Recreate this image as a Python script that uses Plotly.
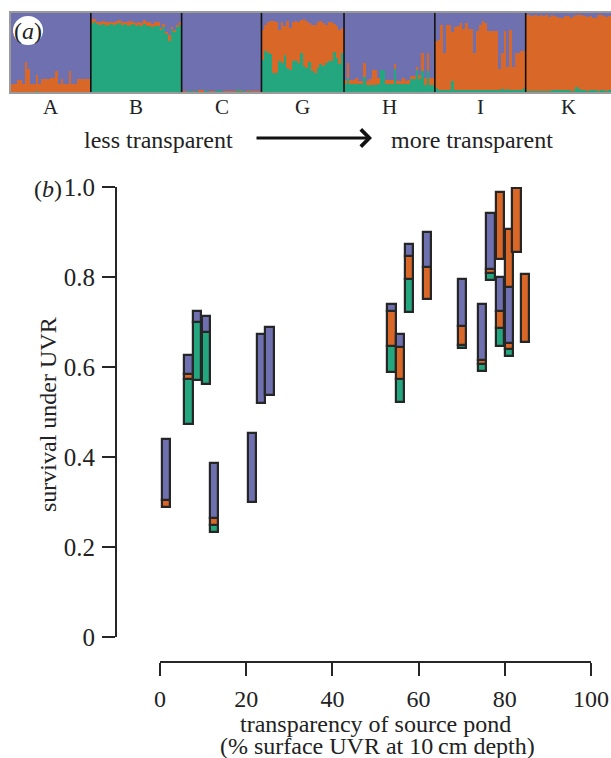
import plotly.graph_objects as go

W, H = 611, 758
PURPLE = "#6E70AF"
ORANGE = "#D96727"
GREEN = "#24A67E"
INK = "#262626"
FONT = "Liberation Serif"

# ---------------- panel (a) data: admixture proportions per individual ----------------
pop_labels = ["A", "B", "C", "G", "H", "I", "K"]

A_green = [0, 0, 0, 0, 0, 0, 0, 0, 0, 0.01, 0, 0, 0, 0, 0, 0, 0, 0, 0, 0, 0, 0, 0, 0, 0, 0, 0, 0, 0]
A_orange = [0.10, 0.10, 0.15, 0.15, 0.10, 0.38, 0.29, 0.10, 0.10, 0.21, 0.10, 0.16, 0.16, 0.17, 0.18,
            0.18, 0.26, 0.10, 0.16, 0.10, 0.10, 0.26, 0.10, 0.10, 0.16, 0.16, 0.16, 0.16, 0.16]

B_green = [0.87, 0.88, 0.86, 0.85, 0.86, 0.84, 0.85, 0.86, 0.85, 0.86, 0.87, 0.85, 0.86, 0.84, 0.85, 0.86,
           0.83, 0.85, 0.84, 0.86, 0.83, 0.84, 0.82, 0.84, 0.83, 0.78, 0.82, 0.74, 0.64, 0.80, 0.76, 0.83, 0.85]
B_orange = [0.06, 0.05, 0.03, 0.03, 0.04, 0.04, 0.03, 0.03, 0.04, 0.04, 0.04, 0.04, 0.03, 0.04, 0.05, 0.03,
            0.04, 0.04, 0.03, 0.05, 0.05, 0.04, 0.04, 0.04, 0.05, 0.03, 0.04, 0.02, 0.08, 0.02, 0.03, 0.02, 0.03]

C_green = [0.01, 0.01, 0.015, 0.015, 0.01, 0.015, 0.01, 0.01, 0.01, 0.015, 0.01, 0.01, 0.015, 0.02, 0.015,
           0.01, 0.01, 0.01, 0.01, 0.01, 0.04, 0.015, 0.01, 0.01, 0.015, 0.01, 0.01, 0.01, 0.01]
C_orange = [0.005, 0.005, 0, 0, 0.005, 0, 0.01, 0.01, 0, 0, 0.005, 0.005, 0, 0, 0, 0.005, 0.005, 0.005,
            0.005, 0.005, 0, 0.005, 0, 0.005, 0.005, 0.005, 0.005, 0.005, 0.005]

G_green = [0.41, 0.52, 0.50, 0.48, 0.24, 0.24, 0.39, 0.37, 0.47, 0.30, 0.28, 0.39, 0.41, 0.37, 0.49,
           0.33, 0.30, 0.38, 0.26, 0.24, 0.30, 0.35, 0.33, 0.37, 0.39, 0.39, 0.51, 0.43, 0.35, 0.49]
G_orange = [0.38, 0.33, 0.38, 0.42, 0.66, 0.64, 0.40, 0.51, 0.37, 0.60, 0.53, 0.49, 0.49, 0.51, 0.42,
            0.59, 0.60, 0.49, 0.59, 0.61, 0.58, 0.55, 0.54, 0.48, 0.49, 0.50, 0.35, 0.41, 0.44, 0.32]

H_green = [0.10, 0.18, 0.10, 0.10, 0.10, 0.10, 0.10, 0.19, 0.09, 0.09, 0.09, 0.09, 0.10, 0.28, 0.28, 0.10,
           0.10, 0.10, 0.29, 0.10, 0.10, 0.10, 0.10, 0.10, 0.16, 0.16, 0.28, 0.16, 0.26, 0.09, 0.26, 0.09, 0.09]
H_orange = [0.05, 0.19, 0.05, 0.05, 0.08, 0.04, 0.04, 0.18, 0.045, 0.075, 0.19, 0.19, 0.08, 0.0, 0.0, 0.05,
            0.05, 0.05, 0.06, 0.035, 0.035, 0.08, 0.035, 0.05, 0.04, 0.04, 0.04, 0.05, 0.23, 0.09, 0.23, 0.09, 0.09]

I_green = [0.05, 0.03, 0.03, 0.03, 0.02, 0.02, 0.135, 0.03, 0.03, 0.03, 0.03, 0.03, 0.03, 0.02, 0.03, 0.03,
           0.03, 0.02, 0.03, 0.03, 0.03, 0.03, 0.03, 0.03, 0.04, 0.03, 0.04, 0.03, 0.03, 0.03, 0.03, 0.03, 0.05]
I_orange = [0.60, 0.63, 0.82, 0.46, 0.83, 0.83, 0.62, 0.79, 0.81, 0.84, 0.77, 0.84, 0.77, 0.78, 0.46, 0.74,
            0.82, 0.88, 0.84, 0.74, 0.74, 0.74, 0.74, 0.26, 0.45, 0.74, 0.28, 0.76, 0.29, 0.46, 0.46, 0.49, 0.47]

K_green = [0.01, 0.01, 0.01, 0.01, 0.01, 0.01, 0.01, 0.01, 0.01, 0.02, 0.02, 0.03, 0.02, 0.02, 0.03, 0.02,
           0.01, 0.01, 0.06, 0.04, 0.02, 0.03, 0.01, 0.02, 0.03, 0.03, 0.01, 0.02, 0.03, 0.01, 0.02]
K_orange = [0.96, 0.96, 0.95, 0.96, 0.95, 0.96, 0.95, 0.96, 0.94, 0.95, 0.94, 0.92, 0.92, 0.92, 0.93, 0.94,
            0.93, 0.95, 0.91, 0.93, 0.95, 0.93, 0.94, 0.94, 0.91, 0.91, 0.96, 0.95, 0.93, 0.94, 0.94]

pops_green = [A_green, B_green, C_green, G_green, H_green, I_green, K_green]
pops_orange = [A_orange, B_orange, C_orange, G_orange, H_orange, I_orange, K_orange]

# ---------------- panel (b) data: survival range per pond, coloured by ancestry ----------------
transparency = [1.4, 6.6, 8.6, 10.6, 12.6, 21.3, 23.4, 25.4, 53.7, 55.7, 57.7, 62.0, 70.0, 74.7,
                76.7, 78.8, 78.8, 80.9, 80.9, 82.7, 84.6]
surv_top = [0.44, 0.627, 0.724, 0.713, 0.387, 0.453, 0.673, 0.689, 0.74, 0.673, 0.873, 0.90, 0.796, 0.742,
            0.944, 0.989, 0.80, 0.907, 0.778, 0.998, 0.807]
surv_bottom = [0.289, 0.473, 0.571, 0.562, 0.233, 0.30, 0.52, 0.538, 0.589, 0.522, 0.722, 0.751, 0.642, 0.591,
               0.793, 0.84, 0.647, 0.756, 0.624, 0.855, 0.656]
frac_purple = [0.90, 0.28, 0.16, 0.23, 0.80, 1, 1, 1, 0.10, 0.19, 0.18, 0.52, 0.68, 0.82,
               0.82, 0, 0.49, 0, 0.81, 0, 0]
frac_orange = [0.10, 0.07, 0.0, 0.0, 0.10, 0, 0, 0, 0.52, 0.47, 0.34, 0.48, 0.28, 0.07,
               0.07, 1.0, 0.25, 1.0, 0.09, 1.0, 1.0]
frac_green = [0, 0.65, 0.84, 0.77, 0.10, 0, 0, 0, 0.38, 0.34, 0.48, 0, 0.04, 0.10,
              0.10, 0, 0.26, 0, 0.10, 0, 0]

x_ticks = [0, 20, 40, 60, 80, 100]
y_ticks = [0, 0.2, 0.4, 0.6, 0.8, 1.0]
y_ticktext = ["0", "0.2", "0.4", "0.6", "0.8", "1.0"]


def px(x):
    return x / W


def py(y):
    return 1 - y / H


fig = go.Figure()

# ---------------- panel (a) bars ----------------
xs, g, o, p, gb = [], [], [], [], []
bounds, centers = [], []
idx = 0
for gl, ol in zip(pops_green, pops_orange):
    n = len(gl)
    centers.append(idx + (n - 1) / 2)
    for gv, ov in zip(gl, ol):
        xs.append(idx)
        g.append(gv)
        o.append(ov)
        gb.append(gv + ov)
        p.append(max(0.0, 1 - gv - ov))
        idx += 1
    bounds.append(idx - 0.5)
N = idx

for vals, base, col in [(g, [0] * N, GREEN), (o, g, ORANGE), (p, gb, PURPLE)]:
    fig.add_trace(go.Bar(x=xs, y=vals, base=base, width=1.06,
                         marker=dict(color=col, line=dict(width=0)),
                         xaxis="x2", yaxis="y2", showlegend=False, hoverinfo="skip"))

# ---------------- panel (b) stacked range bars ----------------
for xv, top, bot, fp, fo, fg in zip(transparency, surv_top, surv_bottom, frac_purple, frac_orange, frac_green):
    h = top - bot
    bases, heights, cols = [], [], []
    cur = bot
    for frac, col in [(fg, GREEN), (fo, ORANGE), (fp, PURPLE)]:
        if frac > 0:
            bases.append(cur)
            heights.append(frac * h)
            cols.append(col)
            cur += frac * h
    fig.add_trace(go.Bar(x=[xv] * len(heights), y=heights, base=bases, width=1.9,
                         marker=dict(color=cols, line=dict(color=INK, width=2.2)),
                         xaxis="x", yaxis="y", showlegend=False, hoverinfo="skip"))

shapes = []
for b in bounds[:-1]:
    shapes.append(dict(type="line", xref="x2", yref="y2 domain", x0=b, x1=b, y0=0, y1=1,
                       line=dict(color="#111111", width=1.6), layer="above"))
shapes.append(dict(type="circle", xref="paper", yref="paper",
                   x0=px(13), x1=px(43), y0=py(45), y1=py(16),
                   fillcolor="white", line=dict(width=0), layer="above"))

txt = dict(family=FONT, size=24, color="#222222")
ytickf = dict(family=FONT, size=25, color="#222222")
xtickf = dict(family=FONT, size=24, color="#222222")
popf = dict(family=FONT, size=21, color="#222222")

annotations = [
    dict(text="(<i>a</i>)", x=px(28), y=py(31), xref="paper", yref="paper", showarrow=False,
         font=txt, xanchor="center", yanchor="middle"),
    dict(text="less transparent", x=px(158), y=py(140), xref="paper", yref="paper", showarrow=False,
         font=txt, xanchor="center", yanchor="middle"),
    dict(text="more transparent", x=px(472), y=py(140), xref="paper", yref="paper", showarrow=False,
         font=txt, xanchor="center", yanchor="middle"),
    dict(text="", x=px(372), y=py(138), xref="paper", yref="paper", ax=-117, ay=0,
         axref="pixel", ayref="pixel", showarrow=True, arrowhead=4, arrowwidth=3,
         arrowsize=1.1, arrowcolor="#111111"),
    dict(text="(<i>b</i>)", x=px(48), y=py(189), xref="paper", yref="paper", showarrow=False,
         font=txt, xanchor="center", yanchor="middle"),
    dict(text="survival under UVR", x=px(48), y=py(415), xref="paper", yref="paper", showarrow=False,
         font=txt, textangle=-90, xanchor="center", yanchor="middle"),
    dict(text="transparency of source pond", x=px(375), y=py(724), xref="paper", yref="paper",
         showarrow=False, font=txt, xanchor="center", yanchor="middle"),
    dict(text="(% surface UVR at 10\u2009cm depth)", x=px(377), y=py(746), xref="paper", yref="paper",
         showarrow=False, font=txt, xanchor="center", yanchor="middle"),
]
for c, lab in zip(centers, pop_labels):
    annotations.append(dict(text=lab, x=c, y=py(107), xref="x2", yref="paper", showarrow=False,
                            font=popf, xanchor="center", yanchor="middle"))

fig.update_layout(
    width=W, height=H,
    autosize=False,
    margin=dict(l=0, r=0, t=0, b=0, pad=0, autoexpand=False),
    paper_bgcolor="white", plot_bgcolor="white",
    barmode="overlay", bargap=0,
    showlegend=False,
    font=txt,
    shapes=shapes,
    annotations=annotations,
    xaxis=dict(domain=[px(160), px(591)], range=[0, 100], anchor="free", position=py(662),
               showline=True, linecolor=INK, linewidth=2, ticks="outside", ticklen=13, tickwidth=2,
               tickcolor=INK, tickvals=x_ticks, tickfont=xtickf, ticklabelstandoff=2,
               showgrid=False, zeroline=False, automargin=False),
    yaxis=dict(domain=[py(637), py(187)], range=[0, 1], anchor="free", position=px(116),
               showline=True, linecolor=INK, linewidth=2, ticks="outside", ticklen=13, tickwidth=2,
               tickcolor=INK, tickvals=y_ticks, ticktext=y_ticktext, tickfont=ytickf,
               ticklabelstandoff=2, showgrid=False, zeroline=False, automargin=False),
    xaxis2=dict(domain=[px(11), 1.0], range=[-0.5, N - 0.5], anchor="y2",
                showline=True, mirror=True, linecolor="#9a9a9a", linewidth=1.5,
                showticklabels=False, ticks="", showgrid=False, zeroline=False, automargin=False),
    yaxis2=dict(domain=[py(92), py(13)], range=[0, 1], anchor="x2",
                showline=True, mirror=True, linecolor="#9a9a9a", linewidth=1.5,
                showticklabels=False, ticks="", showgrid=False, zeroline=False, automargin=False),
)

fig.write_html("out.html", config={"displayModeBar": False},
               post_script="document.body.style.margin='0px';document.body.style.padding='0px';")
